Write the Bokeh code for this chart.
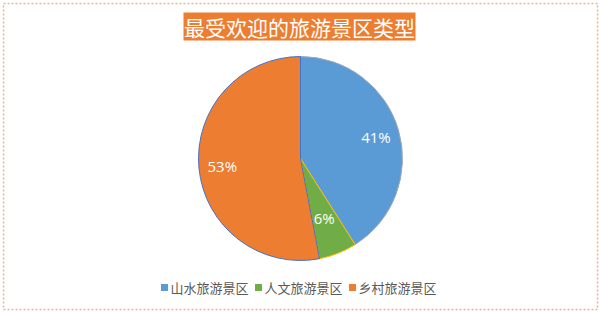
import math
from bokeh.plotting import figure
from bokeh.models import ColumnDataSource
from bokeh.core.properties import value
from bokeh.embed import file_html
from bokeh.resources import INLINE

# ---- data ----
categories = ["山水旅游景区", "人文旅游景区", "乡村旅游景区"]
shares = [41, 6, 53]
labels = ["41%", "6%", "53%"]
title_text = "最受欢迎的旅游景区类型"

# ---- style ----
fill_colors = ["#5b9bd5", "#70ad47", "#ed7d31"]
edge_colors = ["#9fa8b4", "#ffc000", "#4472c4"]
label_radius_frac = [0.77, 0.63, 0.77]
FONT = "Noto Sans CJK SC"

W, H = 600, 312
p = figure(width=W, height=H, x_range=(0, W), y_range=(0, H),
           output_backend="svg", toolbar_location=None, min_border=0)
p.axis.visible = False
p.grid.visible = False
p.outline_line_color = None
p.background_fill_color = "white"
p.border_fill_color = "white"

def sy(y):
    return H - y

# outer dotted border
p.quad(left=[3], right=[597], bottom=[sy(309)], top=[sy(3)],
       fill_color=None, line_color="#f4b183", line_width=1.5, line_dash="2 2")

# title box
p.quad(left=[183], right=[415], bottom=[sy(40)], top=[sy(12)],
       fill_color="#ed7d31", line_color=None)
p.text(x=[299], y=[sy(26)], text=[title_text], text_font=value(FONT),
       text_font_size="21px", text_color="white", text_align="center",
       text_baseline="middle")

# pie
cx, cy, R = 300, sy(158), 102
total = sum(shares)
starts, ends, mids = [], [], []
acc = 0.0
for s in shares:
    a0 = math.pi / 2 - 2 * math.pi * acc / total
    acc += s
    a1 = math.pi / 2 - 2 * math.pi * acc / total
    starts.append(a0)
    ends.append(a1)
    mids.append((a0 + a1) / 2)

src = ColumnDataSource(dict(start=starts, end=ends, fill=fill_colors,
                            edge=edge_colors, cat=categories, share=shares))
p.wedge(x=cx, y=cy, radius=R, radius_units="screen", start_angle="start",
        end_angle="end", direction="clock", fill_color="fill",
        line_color="edge", line_width=1, source=src)

lx = [cx + f * R * math.cos(m) for f, m in zip(label_radius_frac, mids)]
ly = [cy + f * R * math.sin(m) for f, m in zip(label_radius_frac, mids)]
p.text(x=lx, y=ly, text=labels, text_font=value("Open Sans"),
       text_font_size="15px", text_color="white", text_align="center",
       text_baseline="middle")

# legend (manual)
leg_sq_x = [164, 258, 352]
leg_y = sy(287)
p.rect(x=leg_sq_x, y=[leg_y] * 3, width=7, height=7, width_units="screen",
       height_units="screen", fill_color=fill_colors, line_color=None)
p.text(x=[x + 6 for x in leg_sq_x], y=[leg_y] * 3, text=categories,
       text_font=value(FONT), text_font_size="13px", text_color="#595959",
       text_align="left", text_baseline="middle")

open("out.html", "w").write(file_html(p, INLINE))
